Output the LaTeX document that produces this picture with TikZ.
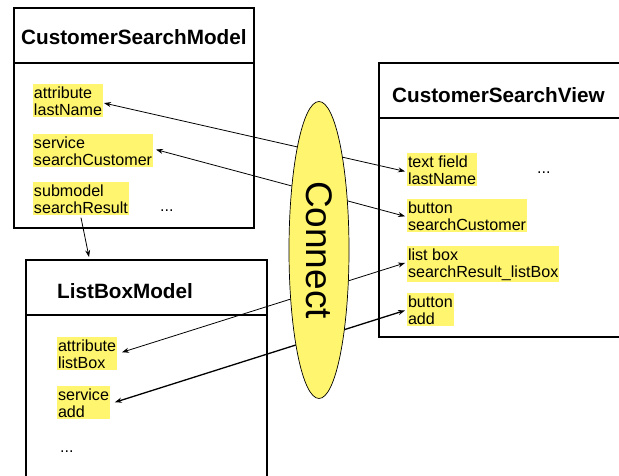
\documentclass[tikz,border=0pt]{standalone}
\usepackage{fontspec}
\setmainfont{Liberation Sans}
\usetikzlibrary{shapes.geometric,arrows.meta}
\definecolor{hl}{RGB}{255,245,110}
\tikzset{
  x=1pt,y=-1pt,
  umlbox/.style={draw,line width=2pt,rectangle,anchor=north west,inner sep=0pt},
  divline/.style={line width=2pt},
  boxtitle/.style={anchor=base west,inner sep=0pt,font=\fontsize{20.7}{24}\selectfont\bfseries},
  hlnode/.style={fill=hl,anchor=north west,align=left,inner xsep=0.8pt,inner ysep=2.2pt,font=\fontsize{16.1}{17}\selectfont},
  dots/.style={anchor=base west,inner sep=0pt,font=\fontsize{16.1}{17}\selectfont},
  link/.style={{Stealth[length=7pt,width=5pt]}-{Stealth[length=7pt,width=5pt]},line width=0.8pt},
  sub/.style={-{Stealth[length=7pt,width=5pt]},line width=0.8pt},
  connect/.style={ellipse,draw,line width=0.7pt,fill=hl,minimum width=297pt,minimum height=60pt,rotate=-90,inner sep=0pt,font=\fontsize{37}{40}\selectfont}
}
\begin{document}
\begin{tikzpicture}
\clip (0,0) rectangle (619,475);
% boxes
\node[umlbox,minimum width=240pt,minimum height=220pt] (csm) at (13,7) {};
\draw[divline] (13,63) -- (253,63);
\node[umlbox,minimum width=241pt,minimum height=260pt] (lbm) at (25,259) {};
\draw[divline] (25,315) -- (266,315);
\node[umlbox,minimum width=270pt,minimum height=274pt] (csv) at (378,62) {};
\draw[divline] (378,118) -- (640,118);
% titles
\node[boxtitle] (t1) at (21,44) {CustomerSearchModel};
\node[boxtitle] (t2) at (57,298) {ListBoxModel};
\node[boxtitle] (t3) at (392,102) {CustomerSearchView};
% model items
\node[hlnode] (m1) at (33,84) {attribute\\lastName};
\node[hlnode] (m2) at (33,134) {service\\searchCustomer};
\node[hlnode] (m3) at (33,182) {submodel\\searchResult};
\node[dots] (d1) at (160,211) {...};
% list box items
\node[hlnode] (l1) at (57,337) {attribute\\listBox};
\node[hlnode] (l2) at (57,386) {service\\add};
\node[dots] (d2) at (60,452) {...};
% view items
\node[hlnode] (v1) at (407,153) {text field\\lastName};
\node[hlnode] (v2) at (407,199) {button\\searchCustomer};
\node[hlnode] (v3) at (407,246) {list box\\searchResult\_listBox};
\node[hlnode] (v4) at (407,293) {button\\add};
\node[dots] (d3) at (537,173) {...};
% connectors
\coordinate (lbtop) at (89,257);
\draw[sub] ([yshift=-2pt]m3.south) -- (lbtop);
\draw[link,shorten <=1pt,shorten >=2pt] ([yshift=-2pt]m1.east) -- ([yshift=-2pt]v1.west);
\draw[link,shorten <=3pt,shorten >=2pt] ([yshift=2pt]m2.east) -- ([yshift=-1pt]v2.west);
\draw[link,shorten <=5pt,shorten >=2pt] (l1.east) -- ([yshift=2pt]v3.west);
\draw[link,line width=1.3pt,shorten <=5pt,shorten >=2pt] ([yshift=-1pt]l2.east) -- (v4.west);
% ellipse on top
\node[connect] (conn) at (319,250) {Connect};
\end{tikzpicture}
\end{document}
